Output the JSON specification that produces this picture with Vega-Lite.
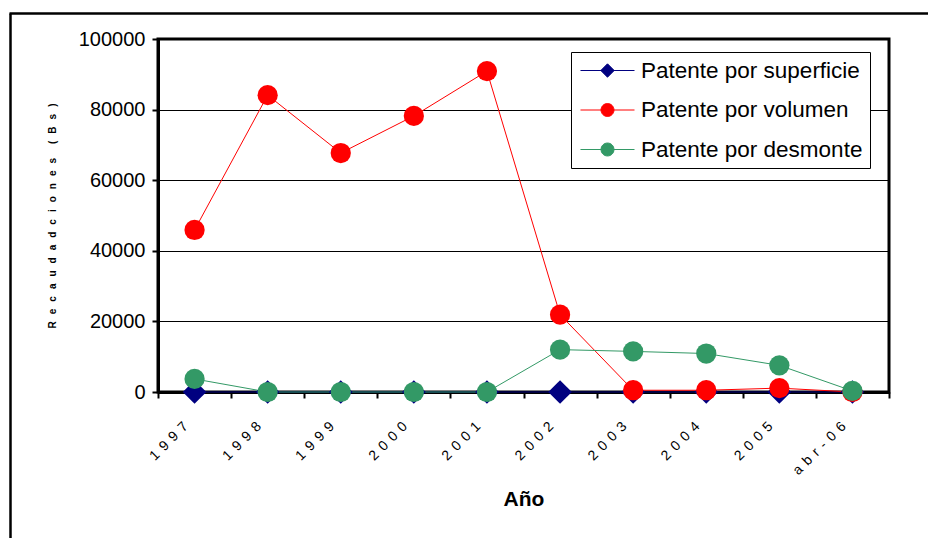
{
  "$schema": "https://vega.github.io/schema/vega-lite/v6.json",
  "width": 731,
  "height": 353,
  "autosize": "none",
  "padding": {"left": 158, "top": 39, "right": 39, "bottom": 146},
  "background": "white",
  "config": {
    "font": "Liberation Sans",
    "view": {"stroke": "black", "strokeWidth": 3, "fill": "white"}
  },
  "datasets": {
    "recaudaciones": [
      {"anio": "1997", "serie": "Patente por superficie", "monto": 0},
      {"anio": "1998", "serie": "Patente por superficie", "monto": 0},
      {"anio": "1999", "serie": "Patente por superficie", "monto": 0},
      {"anio": "2000", "serie": "Patente por superficie", "monto": 0},
      {"anio": "2001", "serie": "Patente por superficie", "monto": 0},
      {"anio": "2002", "serie": "Patente por superficie", "monto": 0},
      {"anio": "2003", "serie": "Patente por superficie", "monto": 0},
      {"anio": "2004", "serie": "Patente por superficie", "monto": 0},
      {"anio": "2005", "serie": "Patente por superficie", "monto": 0},
      {"anio": "abr-06", "serie": "Patente por superficie", "monto": 0},
      {"anio": "1997", "serie": "Patente por volumen", "monto": 45900},
      {"anio": "1998", "serie": "Patente por volumen", "monto": 84100},
      {"anio": "1999", "serie": "Patente por volumen", "monto": 67700},
      {"anio": "2000", "serie": "Patente por volumen", "monto": 78200},
      {"anio": "2001", "serie": "Patente por volumen", "monto": 90900},
      {"anio": "2002", "serie": "Patente por volumen", "monto": 21900},
      {"anio": "2003", "serie": "Patente por volumen", "monto": 500},
      {"anio": "2004", "serie": "Patente por volumen", "monto": 500},
      {"anio": "2005", "serie": "Patente por volumen", "monto": 1100},
      {"anio": "abr-06", "serie": "Patente por volumen", "monto": 0},
      {"anio": "1997", "serie": "Patente por desmonte", "monto": 3700},
      {"anio": "1998", "serie": "Patente por desmonte", "monto": 0},
      {"anio": "1999", "serie": "Patente por desmonte", "monto": 0},
      {"anio": "2000", "serie": "Patente por desmonte", "monto": 0},
      {"anio": "2001", "serie": "Patente por desmonte", "monto": 0},
      {"anio": "2002", "serie": "Patente por desmonte", "monto": 12000},
      {"anio": "2003", "serie": "Patente por desmonte", "monto": 11500},
      {"anio": "2004", "serie": "Patente por desmonte", "monto": 10900},
      {"anio": "2005", "serie": "Patente por desmonte", "monto": 7550},
      {"anio": "abr-06", "serie": "Patente por desmonte", "monto": 300}
    ],
    "marco": [{"borde": "marco"}]
  },
  "layer": [
    {
      "data": {"name": "recaudaciones"},
      "mark": {"type": "line", "strokeWidth": 1},
      "encoding": {
        "x": {
          "field": "anio", "type": "ordinal", "sort": null,
          "scale": {"paddingInner": 0, "paddingOuter": 0},
          "axis": {
            "title": "Año",
            "titleFont": "Liberation Sans", "titleFontSize": 21, "titleFontWeight": "bold",
            "titleColor": "black", "titlePadding": 11,
            "labelAngle": -45, "labelFontSize": 14, "labelColor": "black",
            "labelFont": "Liberation Sans",
            "labelExpr": "join(split(datum.label, ''), '\u2009\u2009')",
            "labelOffset": -14, "labelPadding": 21,
            "tickBand": "extent", "tickSize": 6, "tickWidth": 2, "tickColor": "black",
            "domainColor": "black", "domainWidth": 3,
            "grid": false
          }
        },
        "y": {
          "field": "monto", "type": "quantitative",
          "scale": {"domain": [0, 100000], "nice": false},
          "axis": {
            "title": "R\u2002\u2009e\u2002\u2009c\u2002\u2009a\u2002\u2009u\u2002\u2009d\u2002\u2009a\u2002\u2009d\u2002\u2009c\u2002\u2009i\u2002\u2009o\u2002\u2009n\u2002\u2009e\u2002\u2009s\u2002\u2009\u2002\u2009(\u2002\u2009B\u2002\u2009s\u2002\u2009)",
            "titleFont": "Liberation Sans", "titleFontSize": 10, "titleFontWeight": "bold",
            "titleColor": "black", "titlePadding": 21,
            "values": [0, 20000, 40000, 60000, 80000, 100000],
            "format": "d",
            "labelFontSize": 20, "labelColor": "black", "labelFont": "Liberation Sans",
            "labelPadding": 7,
            "tickSize": 6, "tickWidth": 2, "tickColor": "black",
            "domainColor": "black", "domainWidth": 3,
            "grid": true, "gridColor": "black", "gridWidth": 1, "gridOpacity": 1
          }
        },
        "color": {
          "field": "serie", "type": "nominal",
          "scale": {
            "domain": ["Patente por superficie", "Patente por volumen", "Patente por desmonte"],
            "range": ["#000080", "#ff0000", "#339966"]
          },
          "legend": {
            "title": null,
            "orient": "none", "legendX": 413, "legendY": 13,
            "fillColor": "white", "strokeColor": "black",
            "padding": 7,
            "labelFont": "Liberation Sans", "labelFontSize": 22.5, "labelColor": "black",
            "labelLimit": 400, "labelOffset": 22,
            "rowPadding": 16.5,
            "symbolSize": 467,
            "symbolOffset": 18,
            "symbolOpacity": 1,
            "symbolStrokeWidth": 1,
            "encode": {
              "symbols": {
                "update": {
                  "shape": {"signal": "datum.value === 'Patente por superficie' ? 'M-2.5,0H2.5M0,-0.62L0.62,0L0,0.62L-0.62,0Z' : 'M-2.5,0H2.5M0.6,0A0.6,0.6,0,1,1,-0.6,0A0.6,0.6,0,1,1,0.6,0Z'"},
                  "fill": {"scale": "color", "field": "value"},
                  "stroke": {"scale": "color", "field": "value"}
                }
              }
            }
          }
        }
      }
    },
    {
      "data": {"name": "recaudaciones"},
      "transform": [{"filter": "datum.serie === 'Patente por superficie'"}],
      "mark": {"type": "point", "shape": "diamond", "filled": true, "opacity": 1, "size": 560},
      "encoding": {
        "x": {"field": "anio", "type": "ordinal", "sort": null},
        "y": {"field": "monto", "type": "quantitative"},
        "color": {"field": "serie", "type": "nominal"}
      }
    },
    {
      "data": {"name": "recaudaciones"},
      "transform": [{"filter": "datum.serie !== 'Patente por superficie'"}],
      "mark": {"type": "point", "shape": "circle", "filled": true, "opacity": 1, "size": 410},
      "encoding": {
        "x": {"field": "anio", "type": "ordinal", "sort": null},
        "y": {"field": "monto", "type": "quantitative"},
        "color": {"field": "serie", "type": "nominal"}
      }
    },
    {
      "data": {"name": "marco"},
      "mark": {"type": "rule", "color": "black", "strokeWidth": 2.5, "clip": false},
      "encoding": {
        "x": {"value": -147.5},
        "y": {"value": -25.5},
        "y2": {"value": 520}
      }
    },
    {
      "data": {"name": "marco"},
      "mark": {"type": "rule", "color": "black", "strokeWidth": 2.5, "clip": false},
      "encoding": {
        "x": {"value": -148.5},
        "x2": {"value": 790},
        "y": {"value": -25.5}
      }
    }
  ]
}
